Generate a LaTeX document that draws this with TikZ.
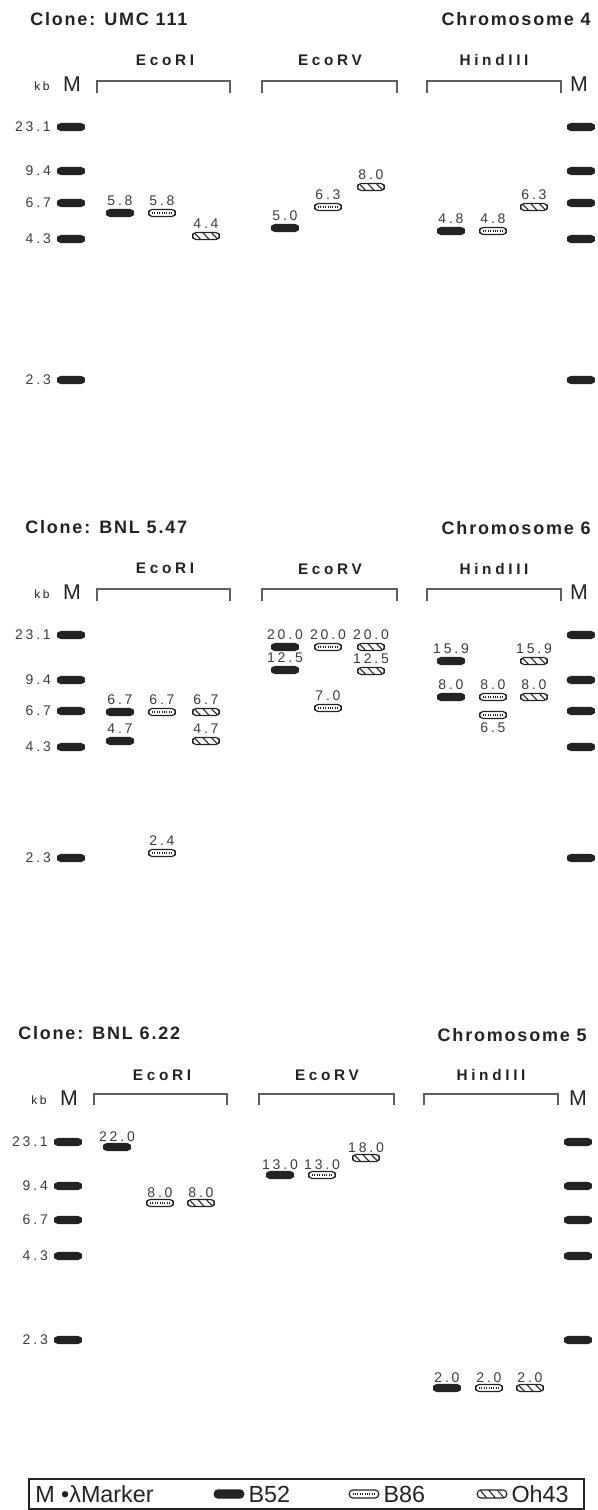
\documentclass[tikz,border=0pt]{standalone}
\usepackage{fontspec}
\setmainfont{Liberation Sans}
\newfontfamily\titlefont[LetterSpace=10]{Liberation Sans}
\newfontfamily\enzfont[LetterSpace=24]{Liberation Sans}
\newfontfamily\numfont[LetterSpace=20]{Liberation Sans}
\usetikzlibrary{positioning}
\definecolor{ink}{RGB}{35,35,35}
\definecolor{rule}{RGB}{95,95,95}
\definecolor{digit}{RGB}{60,60,60}

\begin{document}
\begin{tikzpicture}[x=0.75pt, y=-0.75pt,
  every node/.style={inner sep=0pt, text=ink},
  title/.style={font=\titlefont\bfseries\fontsize{13.5}{16}\selectfont},
  enzyme/.style={font=\enzfont\bfseries\fontsize{11.5}{14}\selectfont},
  numlab/.style={font=\numfont\fontsize{10.5}{12}\selectfont, text=digit, inner sep=0.5pt},
  kbtext/.style={font=\numfont\fontsize{9}{11}\selectfont},
  bigM/.style={font=\fontsize{16}{18}\selectfont},
  keyfont/.style={font=\fontsize{17.5}{20}\selectfont},
  bracket/.style={draw=rule, line width=1.1pt},
  band/.style={rectangle, rounded corners=2.6pt, minimum width=20pt, minimum height=5.2pt,
    inner sep=0pt, draw=ink, line width=0.9pt},
  marker/.style={band, fill=ink},
  b52/.style={band, fill=ink},
  b86/.style={band, fill=white, path picture={
    \draw[ink, line width=1.3pt, dash pattern=on 0.6pt off 1.2pt]
      ([xshift=2.5pt]path picture bounding box.west) -- ([xshift=-2.5pt]path picture bounding box.east);}},
  oh43/.style={band, fill=white, path picture={
    \foreach \s in {-6.5,0,6.5}
      \draw[ink, line width=0.8pt] ([xshift={\s pt-2.5pt}]path picture bounding box.north)
        -- ([xshift={\s pt+2.5pt}]path picture bounding box.south);}},
  lab/.style={label={[numlab, label distance=2pt]above:#1}},
  labc/.style={label={[numlab, label distance=0.5pt]above:#1}},
  labb/.style={label={[numlab, label distance=2pt]below:#1}},
]
\useasboundingbox (0,0) rectangle (597,1510);

% Clone UMC 111
\begin{scope}
  \node[title, anchor=west] (aT) at (30,19) {Clone: UMC 111};
  \node[title, anchor=east] (aC) at (591,19) {Chromosome 4};
  \node[kbtext] (akb) at (42,86) {kb};
  \node[bigM] (aM) at (72,84) {M};
  \node[bigM] (aMr) at (579,84) {M};
  \node[enzyme] (aE1) at (165,60) {EcoRI};
  \node[enzyme] (aE2) at (330,60) {EcoRV};
  \node[enzyme] (aE3) at (494,60) {HindIII};
  \draw[bracket] (97,93) |- (230,81) -- (230,93);
  \draw[bracket] (262,93) |- (397,81) -- (397,93);
  \draw[bracket] (427,93) |- (561,81) -- (561,93);
  \foreach \kb/\yy [count=\i] in {23.1/127,9.4/171,6.7/203,4.3/239,2.3/380} {
    \node[marker] (aL\i) at (71,\yy) {};
    \node[numlab, left=4pt of aL\i] (aK\i) {\kb};
    \node[marker] (aR\i) at (581,\yy) {};
  }
  \node[b52, lab=5.8] (a11) at (120,213) {};
  \node[b86, lab=5.8] (a12) at (162,213) {};
  \node[oh43, lab=4.4] (a13) at (206,236) {};
  \node[b52, lab=5.0] (a21) at (285,228) {};
  \node[b86, lab=6.3] (a22) at (328,207) {};
  \node[oh43, lab=8.0] (a23) at (371,187) {};
  \node[b52, lab=4.8] (a31) at (451,231) {};
  \node[b86, lab=4.8] (a32) at (493,231) {};
  \node[oh43, lab=6.3] (a33) at (534,207) {};
\end{scope}

% Clone BNL 5.47
\begin{scope}[shift={(0,508)}]
  \node[title, anchor=west] (bT) at (25,19) {Clone: BNL 5.47};
  \node[title, anchor=east] (bC) at (591,20) {Chromosome 6};
  \node[kbtext] (bkb) at (42,86) {kb};
  \node[bigM] (bM) at (72,84) {M};
  \node[bigM] (bMr) at (579,84) {M};
  \node[enzyme] (bE1) at (165,60) {EcoRI};
  \node[enzyme] (bE2) at (330,61) {EcoRV};
  \node[enzyme] (bE3) at (494,61) {HindIII};
  \draw[bracket] (97,93) |- (230,81) -- (230,93);
  \draw[bracket] (262,93) |- (397,81) -- (397,93);
  \draw[bracket] (427,93) |- (561,81) -- (561,93);
  \foreach \kb/\yy [count=\i] in {23.1/127,9.4/172,6.7/203,4.3/239,2.3/350} {
    \node[marker] (bL\i) at (71,\yy) {};
    \node[numlab, left=4pt of bL\i] (bK\i) {\kb};
    \node[marker] (bR\i) at (581,\yy) {};
  }
  \node[b52, lab=6.7] (b11) at (120,204) {};
  \node[b52, lab=4.7] (b12) at (120,233) {};
  \node[b86, lab=6.7] (b13) at (162,204) {};
  \node[b86, lab=2.4] (b14) at (162,345) {};
  \node[oh43, lab=6.7] (b15) at (206,204) {};
  \node[oh43, lab=4.7] (b16) at (206,233) {};
  \node[b52, lab=20.0] (b21) at (285,139) {};
  \node[b52, lab=12.5] (b22) at (285,162) {};
  \node[b86, lab=20.0] (b23) at (328,139) {};
  \node[b86, lab=7.0] (b24) at (328,200) {};
  \node[oh43, lab=20.0] (b25) at (371,139) {};
  \node[oh43, lab=12.5] (b26) at (371,163) {};
  \node[b52, lab=15.9] (b31) at (451,153) {};
  \node[b52, lab=8.0] (b32) at (451,189) {};
  \node[b86, lab=8.0] (b33) at (493,189) {};
  \node[b86, labb=6.5] (b34) at (493,207) {};
  \node[oh43, lab=15.9] (b35) at (534,153) {};
  \node[oh43, lab=8.0] (b36) at (534,189) {};
\end{scope}

% Clone BNL 6.22
\begin{scope}[shift={(-3,1014)}]
  \node[title, anchor=west] (cT) at (21,19) {Clone: BNL 6.22};
  \node[title, anchor=east] (cC) at (590,21) {Chromosome 5};
  \node[kbtext] (ckb) at (42,86) {kb};
  \node[bigM] (cM) at (72,84) {M};
  \node[bigM] (cMr) at (581,84) {M};
  \node[enzyme] (cE1) at (165,61) {EcoRI};
  \node[enzyme] (cE2) at (330,61) {EcoRV};
  \node[enzyme] (cE3) at (494,61) {HindIII};
  \draw[bracket] (97,91) |- (230,80) -- (230,91);
  \draw[bracket] (262,91) |- (397,80) -- (397,91);
  \draw[bracket] (427,91) |- (561,80) -- (561,91);
  \foreach \kb/\yy [count=\i] in {23.1/128,9.4/172,6.7/206,4.3/242,2.3/326} {
    \node[marker] (cL\i) at (71,\yy) {};
    \node[numlab, left=4pt of cL\i] (cK\i) {\kb};
    \node[marker] (cR\i) at (581,\yy) {};
  }
  \node[b52, labc=22.0] (c11) at (120,133) {};
  \node[b86, labc=8.0] (c12) at (163,189) {};
  \node[oh43, labc=8.0] (c13) at (204,189) {};
  \node[b52, labc=13.0] (c21) at (283,161) {};
  \node[b86, labc=13.0] (c22) at (325,161) {};
  \node[oh43, labc=18.0] (c23) at (369,144) {};
  \node[b52, labc=2.0] (c31) at (450,374) {};
  \node[b86, labc=2.0] (c32) at (492,374) {};
  \node[oh43, labc=2.0] (c33) at (533,374) {};
\end{scope}

% key
\draw[ink, line width=1pt] (29,1479) rectangle (584,1509);
\node[keyfont, anchor=west] (kM) at (35,1494) {M •λMarker};
\node[b52, minimum width=22pt, minimum height=6pt] (kB52) at (229,1494) {};
\node[keyfont, right=3pt of kB52] (kT52) {B52};
\node[b86, minimum width=22pt, minimum height=6pt] (kB86) at (364,1494) {};
\node[keyfont, right=3pt of kB86] (kT86) {B86};
\node[oh43, minimum width=22pt, minimum height=6pt] (kOh) at (492,1494) {};
\node[keyfont, right=3pt of kOh] (kTOh) {Oh43};
\end{tikzpicture}
\end{document}
